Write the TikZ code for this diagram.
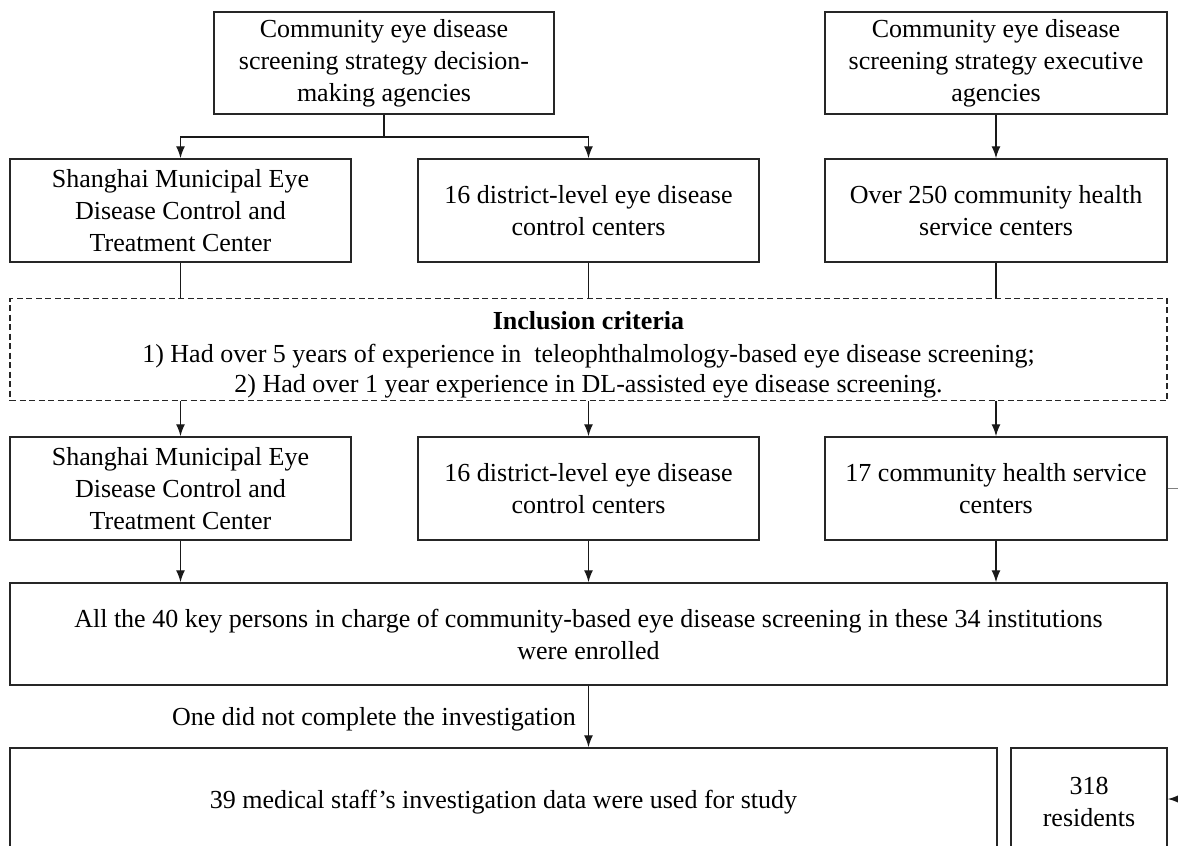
\documentclass[tikz,border=0pt]{standalone}
\usepackage{fontspec}
\setmainfont{Liberation Serif}
\usetikzlibrary{arrows.meta}
\begin{document}
\begin{tikzpicture}[x=1pt,y=-1pt,
  every node/.style={font=\fontsize{26}{32}\selectfont},
  box/.style={draw=black!85,line width=1.5pt,inner sep=0pt,align=center},
  dbox/.style={draw=black!85,line width=1.3pt,dash pattern=on 6pt off 3.5pt,inner sep=0pt,align=center},
  link/.style={draw=black!90,line width=1.4pt},
  arr/.style={link,-{Latex[length=12pt,width=9pt]}}]
\useasboundingbox (0,0) rectangle (1178,846);
% row 1
\node[box,minimum width=340pt,minimum height=102pt] (tl) at (384,63)
  {Community eye disease\\screening strategy decision-\\making agencies};
\node[box,minimum width=342pt,minimum height=102pt] (tr) at (996,63)
  {Community eye disease\\screening strategy executive\\agencies};
% row 2
\node[box,minimum width=341pt,minimum height=103pt] (r2a) at (180.5,210.5)
  {Shanghai Municipal Eye\\Disease Control and\\Treatment Center};
\node[box,minimum width=341pt,minimum height=103pt] (r2b) at (588.5,210.5)
  {16 district-level eye disease\\control centers};
\node[box,minimum width=342pt,minimum height=103pt] (r2c) at (996,210.5)
  {Over 250 community health\\service centers};
% inclusion criteria
\node[dbox,minimum width=1157pt,minimum height=102pt] (incl) at (588.5,349.5) {};
\node[align=center,inner sep=0pt] (incltxt) at (588.5,355)
  {\textbf{Inclusion criteria}\\[1pt]
   1) Had over 5 years of experience in\ \ teleophthalmology-based eye disease screening;\\[-2pt]
   2) Had over 1 year experience in DL-assisted eye disease screening.};
% row 3
\node[box,minimum width=341pt,minimum height=103pt] (r3a) at (180.5,488.5)
  {Shanghai Municipal Eye\\Disease Control and\\Treatment Center};
\node[box,minimum width=341pt,minimum height=103pt] (r3b) at (588.5,488.5)
  {16 district-level eye disease\\control centers};
\node[box,minimum width=342pt,minimum height=103pt] (r3c) at (996,488.5)
  {17 community health service\\centers};
% wide box
\node[box,minimum width=1157pt,minimum height=102pt] (wide) at (588.5,634)
  {All the 40 key persons in charge of community-based eye disease screening in these 34 institutions\\were enrolled};
% bottom
\node[box,minimum width=987pt,minimum height=108pt] (bot) at (503.5,802)
  {39 medical staff’s investigation data were used for study};
\node[box,minimum width=156pt,minimum height=108pt] (res) at (1089,802)
  {318\\residents};
\node[anchor=east,inner sep=0pt] (lbl) at (576,719) {One did not complete the investigation};
% connectors
\coordinate (br) at (384,137);
\draw[link] (tl.south) -- (br);
\draw[arr] (br) -| (r2a.north);
\draw[arr] (br) -| (r2b.north);
\draw[arr] (tr.south) -- (r2c.north);
\draw[link] (r2a.south) -- (r2a.south |- incl.north);
\draw[link] (r2b.south) -- (r2b.south |- incl.north);
\draw[link] (r2c.south) -- (r2c.south |- incl.north);
\draw[arr] (r3a.north |- incl.south) -- (r3a.north);
\draw[arr] (r3b.north |- incl.south) -- (r3b.north);
\draw[arr] (r3c.north |- incl.south) -- (r3c.north);
\draw[arr] (r3a.south) -- (r3a.south |- wide.north);
\draw[arr] (r3b.south) -- (r3b.south |- wide.north);
\draw[arr] (r3c.south) -- (r3c.south |- wide.north);
\draw[arr] (r3b.south |- wide.south) -- (r3b.south |- bot.north);
\coordinate (stub) at (1180,488.5);
\draw[draw=black!50,line width=1pt] (r3c.east) -- (stub);
\coordinate (resin) at (1185,799);
\draw[arr] (resin) -- (res.east |- resin);
\end{tikzpicture}
\end{document}
